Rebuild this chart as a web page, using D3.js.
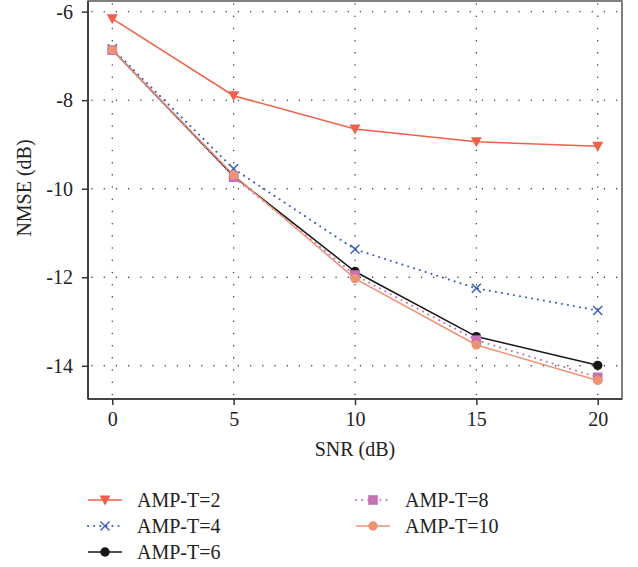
<!DOCTYPE html>
<html>
<head>
<meta charset="utf-8">
<script src="https://cdn.jsdelivr.net/npm/d3@7"></script>
<style>
  html, body { margin: 0; padding: 0; background: #fff; }
  svg { display: block; }
  svg text { font-family: "Liberation Serif", "Times New Roman", Times, Tinos, serif; fill: #222; font-size: 20px; }
</style>
</head>
<body>
<svg id="chart" width="638" height="567"></svg>
<script>
// SNR sweep and NMSE results for each AMP iteration count
const snr = [0, 5, 10, 15, 20];
const xTicks = [0, 5, 10, 15, 20];
const yTicks = [-6, -8, -10, -12, -14];

const ampT2  = [-6.16, -7.90, -8.65, -8.94, -9.04];
const ampT4  = [-6.84, -9.55, -11.37, -12.25, -12.75];
const ampT6  = [-6.86, -9.72, -11.87, -13.34, -13.99];
const ampT8  = [-6.87, -9.74, -11.95, -13.42, -14.26];
const ampT10 = [-6.86, -9.69, -12.03, -13.53, -14.33];

const seriesNames = ["AMP-T=2", "AMP-T=4", "AMP-T=6", "AMP-T=8", "AMP-T=10"];
const seriesValues = [ampT2, ampT4, ampT6, ampT8, ampT10];

const styles = [
  { color: "#f1604a", dash: null,     marker: "triDown" },
  { color: "#3a5bbf", dash: "0.1,6",  marker: "cross" },
  { color: "#161616", dash: null,     marker: "circle" },
  { color: "#c472b4", dash: "0.1,6",  marker: "square" },
  { color: "#ee9274", dash: null,     marker: "circle" }
];

const SERIF = "'Liberation Serif', 'Times New Roman', Times, Tinos, serif";

const svg = d3.select("#chart");
const plot = { left: 88, right: 622, top: 1, bottom: 399 };

const x = d3.scaleLinear().domain([-1, 21]).range([plot.left, plot.right]);
const y = d3.scaleLinear().domain([-14.75, -5.76]).range([plot.bottom, plot.top]);

// dotted grid
const grid = svg.append("g");
grid.selectAll("line.gx").data(xTicks).enter().append("line")
  .attr("x1", d => x(d)).attr("x2", d => x(d))
  .attr("y1", plot.top + 3).attr("y2", plot.bottom)
  .attr("stroke", "#333").attr("stroke-width", 1.4)
  .attr("stroke-linecap", "round")
  .attr("stroke-dasharray", "0.1,12.1");
grid.selectAll("line.gy").data(yTicks).enter().append("line")
  .attr("y1", d => y(d)).attr("y2", d => y(d))
  .attr("x1", plot.left + 4).attr("x2", plot.right - 4)
  .attr("stroke", "#333").attr("stroke-width", 1.4)
  .attr("stroke-linecap", "round")
  .attr("stroke-dasharray", "0.1,12.1");

// frame (top/right)
svg.append("rect")
  .attr("x", plot.left).attr("y", plot.top)
  .attr("width", plot.right - plot.left).attr("height", plot.bottom - plot.top)
  .attr("fill", "none").attr("stroke", "#555").attr("stroke-width", 1.5);

// axes
const xAxis = d3.axisBottom(x).tickValues(xTicks).tickSize(6).tickPadding(7).tickFormat(d3.format("d"));
const yAxis = d3.axisLeft(y).tickValues(yTicks).tickSize(6).tickPadding(9).tickFormat(d => String(d));

const gx = svg.append("g").attr("transform", `translate(0,${plot.bottom})`).call(xAxis);
const gy = svg.append("g").attr("transform", `translate(${plot.left},0)`).call(yAxis);
[gx, gy].forEach(g => {
  g.attr("font-family", SERIF).attr("font-size", 20);
  g.select(".domain").attr("stroke", "#333").attr("stroke-width", 1.6);
  g.selectAll(".tick line").attr("stroke", "#333").attr("stroke-width", 1.5);
  g.selectAll(".tick text").style("font-family", SERIF)
    .style("font-size", "20px").attr("fill", "#222");
});
gx.select(".domain").attr("d", `M${plot.left},0H${plot.right}`);
gy.select(".domain").attr("d", `M0,${plot.top}V${plot.bottom}`);

// axis titles
svg.append("text").attr("x", 355).attr("y", 456).attr("text-anchor", "middle")
  .text("SNR (dB)");
svg.append("text").attr("transform", "translate(31,188) rotate(-90)")
  .attr("text-anchor", "middle").text("NMSE (dB)");

// marker drawing
function drawMarker(g, type, cx, cy, color) {
  if (type === "triDown") {
    g.append("path").attr("d", `M${cx - 5.5},${cy - 4.5}L${cx + 5.5},${cy - 4.5}L${cx},${cy + 5.5}Z`).attr("fill", color);
  } else if (type === "cross") {
    g.append("path").attr("d", `M${cx - 4.5},${cy - 4.5}L${cx + 4.5},${cy + 4.5}M${cx - 4.5},${cy + 4.5}L${cx + 4.5},${cy - 4.5}`)
      .attr("stroke", color).attr("stroke-width", 1.4).attr("fill", "none");
  } else if (type === "circle") {
    g.append("circle").attr("cx", cx).attr("cy", cy).attr("r", 4.7).attr("fill", color);
  } else if (type === "square") {
    g.append("rect").attr("x", cx - 4.8).attr("y", cy - 4.8).attr("width", 9.6).attr("height", 9.6).attr("fill", color);
  }
}

const line = d3.line().x((d, i) => x(snr[i])).y(d => y(d));

seriesValues.forEach((vals, k) => {
  const st = styles[k];
  const g = svg.append("g");
  g.append("path").datum(vals).attr("d", line)
    .attr("fill", "none").attr("stroke", st.color)
    .attr("stroke-width", st.dash ? 2 : 1.5)
    .attr("stroke-linecap", st.dash ? "round" : "butt")
    .attr("stroke-dasharray", st.dash);
  vals.forEach((v, i) => drawMarker(g, st.marker, x(snr[i]), y(v), st.color));
});

// legend
const legendPos = [
  { lx: 88, ty: 500 }, { lx: 88, ty: 526 }, { lx: 88, ty: 552 },
  { lx: 356, ty: 500 }, { lx: 356, ty: 526 }
];
seriesNames.forEach((name, k) => {
  const st = styles[k];
  const p = legendPos[k];
  const g = svg.append("g");
  g.append("line").attr("x1", p.lx).attr("x2", p.lx + 34).attr("y1", p.ty).attr("y2", p.ty)
    .attr("stroke", st.color).attr("stroke-width", st.dash ? 2 : 1.5)
    .attr("stroke-linecap", st.dash ? "round" : "butt")
    .attr("stroke-dasharray", st.dash);
  drawMarker(g, st.marker, p.lx + 17, p.ty, st.color);
  g.append("text").attr("x", p.lx + 49).attr("y", p.ty + 7).text(name);
});
</script>
</body>
</html>
